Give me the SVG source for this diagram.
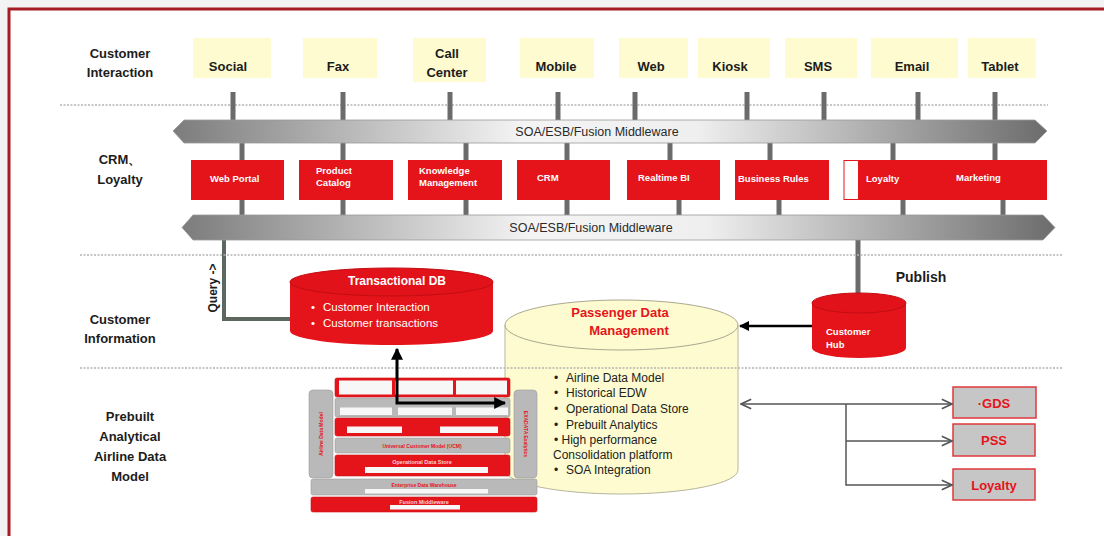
<svg xmlns="http://www.w3.org/2000/svg" width="1104" height="536" viewBox="0 0 1104 536">
<defs>
<style>
.lbl{font-family:"Liberation Sans",Arial,sans-serif;font-weight:bold;font-size:13px;fill:#1c1c1c;text-anchor:middle}
.ch{fill:#fdfbcf}
.stub{stroke:#6b6b6b;stroke-width:5}
.sep{stroke:#b4b4b4;stroke-width:1.5;stroke-dasharray:2 1.5}
.bar{fill:url(#gbar);stroke:#9a9a9a;stroke-width:0.8}
.bartxt{font-family:"Liberation Sans",Arial,sans-serif;font-size:12.5px;fill:#2a2a2a;text-anchor:middle}
.rb{fill:#e5141b}
.rbt{font-family:"Liberation Sans",Arial,sans-serif;font-weight:bold;font-size:9.5px;fill:#fff}
.wt{font-family:"Liberation Sans",Arial,sans-serif;font-size:11.5px;fill:#fff}
.pt{font-family:"Liberation Sans",Arial,sans-serif;font-size:12px;fill:#222}
.gb{fill:#c6c6c6;stroke:#e0383d;stroke-width:1.5}
.gbt{font-family:"Liberation Sans",Arial,sans-serif;font-weight:bold;font-size:13px;fill:#e5141b;text-anchor:middle}
.conn{stroke:#555;stroke-width:1.5;fill:none}
.sr{fill:#e5141b;stroke:#c81016;stroke-width:0.6}
.sg{fill:#b9b9b9;stroke:#9a9a9a;stroke-width:0.6}
.sw{fill:#f7f7f7}
.st{font-family:"Liberation Sans",Arial,sans-serif;font-size:5px;font-weight:bold;fill:#e5141b;text-anchor:middle}
.stw{font-family:"Liberation Sans",Arial,sans-serif;font-size:5.5px;font-weight:bold;fill:#fbd0d0;text-anchor:middle}
</style>
<linearGradient id="gbar" x1="0" y1="0" x2="1" y2="0">
<stop offset="0" stop-color="#7c7c7c"/>
<stop offset="0.4" stop-color="#f4f4f4"/>
<stop offset="0.6" stop-color="#efefef"/>
<stop offset="1" stop-color="#6c6c6c"/>
</linearGradient>
<marker id="ab" viewBox="0 0 10 10" refX="9" refY="5" markerWidth="4" markerHeight="4" orient="auto-start-reverse" markerUnits="strokeWidth">
<path d="M0,0 L10,5 L0,10 z" fill="#000"/>
</marker>
<marker id="ao" viewBox="0 0 10 10" refX="9.5" refY="5" markerWidth="8" markerHeight="8" orient="auto-start-reverse" markerUnits="strokeWidth">
<path d="M1,1 L9.5,5 L1,9" fill="none" stroke="#555" stroke-width="1.3"/>
</marker>
</defs>
<rect x="0" y="0" width="1104" height="536" fill="#f3f3f3"/>
<rect x="9" y="9" width="1100" height="540" fill="#fff" stroke="#a51d23" stroke-width="3"/>

<!-- row labels -->
<g id="lbl-ci"><text class="lbl" x="120" y="58">Customer</text><text class="lbl" x="120" y="77">Interaction</text></g>
<g id="lbl-crm"><text class="lbl" x="120" y="164">CRM、</text><text class="lbl" x="120" y="184">Loyalty</text></g>
<g id="lbl-cinfo"><text class="lbl" x="120" y="324">Customer</text><text class="lbl" x="120" y="343">Information</text></g>
<g id="lbl-pre"><text class="lbl" x="130" y="421">Prebuilt</text><text class="lbl" x="130" y="441">Analytical</text><text class="lbl" x="130" y="461">Airline Data</text><text class="lbl" x="130" y="481">Model</text></g>

<!-- separators -->
<g id="separators-top">
<line class="sep" x1="60" y1="105" x2="1048" y2="105"/>
</g>

<!-- connectors -->
<g id="connectors">
<line class="stub" x1="233" y1="92" x2="233" y2="121"/>
<line class="stub" x1="343" y1="92" x2="343" y2="121"/>
<line class="stub" x1="450" y1="92" x2="450" y2="121"/>
<line class="stub" x1="558" y1="92" x2="558" y2="121"/>
<line class="stub" x1="635" y1="92" x2="635" y2="121"/>
<line class="stub" x1="747" y1="92" x2="747" y2="121"/>
<line class="stub" x1="824" y1="92" x2="824" y2="121"/>
<line class="stub" x1="918" y1="92" x2="918" y2="121"/>
<line class="stub" x1="995" y1="92" x2="995" y2="121"/>

<line class="stub" x1="242" y1="142" x2="242" y2="161"/>
<line class="stub" x1="343" y1="142" x2="343" y2="161"/>
<line class="stub" x1="466" y1="142" x2="466" y2="161"/>
<line class="stub" x1="567" y1="142" x2="567" y2="161"/>
<line class="stub" x1="670" y1="142" x2="670" y2="161"/>
<line class="stub" x1="770" y1="142" x2="770" y2="161"/>
<line class="stub" x1="893" y1="142" x2="893" y2="161"/>
<line class="stub" x1="995" y1="142" x2="995" y2="161"/>

<line class="stub" x1="242" y1="199" x2="242" y2="216"/>
<line class="stub" x1="343" y1="199" x2="343" y2="216"/>
<line class="stub" x1="466" y1="199" x2="466" y2="216"/>
<line class="stub" x1="567" y1="199" x2="567" y2="216"/>
<line class="stub" x1="679" y1="199" x2="679" y2="216"/>
<line class="stub" x1="779" y1="199" x2="779" y2="216"/>
<line class="stub" x1="903" y1="199" x2="903" y2="216"/>
<line class="stub" x1="1003" y1="199" x2="1003" y2="216"/>

<path d="M224,239 L224,319 L292,319" fill="none" stroke="#5d675d" stroke-width="4"/>
<line x1="858" y1="239" x2="858" y2="296" stroke="#6b6b6b" stroke-width="5"/>
</g>

<!-- channels -->
<g id="ch-social"><rect class="ch" x="193" y="38" width="78" height="40"/><text class="lbl" x="228" y="71">Social</text></g>
<g id="ch-fax"><rect class="ch" x="303" y="38" width="74" height="40"/><text class="lbl" x="338" y="71">Fax</text></g>
<g id="ch-call"><rect class="ch" x="413" y="38" width="73" height="44"/><text class="lbl" x="447" y="58">Call</text><text class="lbl" x="447" y="77">Center</text></g>
<g id="ch-mobile"><rect class="ch" x="520" y="38" width="74" height="40"/><text class="lbl" x="556" y="71">Mobile</text></g>
<g id="ch-web"><rect class="ch" x="619" y="38" width="69" height="40"/><text class="lbl" x="651" y="71">Web</text></g>
<g id="ch-kiosk"><rect class="ch" x="698" y="38" width="72" height="40"/><text class="lbl" x="730" y="71">Kiosk</text></g>
<g id="ch-sms"><rect class="ch" x="785" y="38" width="72" height="40"/><text class="lbl" x="818" y="71">SMS</text></g>
<g id="ch-email"><rect class="ch" x="871" y="38" width="87" height="40"/><text class="lbl" x="912" y="71">Email</text></g>
<g id="ch-tablet"><rect class="ch" x="968" y="38" width="68" height="40"/><text class="lbl" x="1000" y="71">Tablet</text></g>

<!-- middleware bars -->
<g id="mw-top"><polygon class="bar" points="173,131 184,120 1035,120 1047,131 1035,143 184,143"/><text class="bartxt" x="597" y="135.5">SOA/ESB/Fusion Middleware</text></g>
<g id="mw-bottom"><polygon class="bar" points="182,227.5 193,215 1043,215 1055,227.5 1043,240 193,240"/><text class="bartxt" x="591" y="232">SOA/ESB/Fusion Middleware</text></g>

<!-- red app boxes -->
<g id="app-webportal"><rect class="rb" x="191" y="160" width="93" height="40"/><text class="rbt" x="210" y="182">Web Portal</text></g>
<g id="app-catalog"><rect class="rb" x="299" y="160" width="94" height="40"/><text class="rbt" x="316" y="174">Product</text><text class="rbt" x="316" y="186">Catalog</text></g>
<g id="app-km"><rect class="rb" x="408" y="160" width="94" height="40"/><text class="rbt" x="419" y="174">Knowledge</text><text class="rbt" x="419" y="186">Management</text></g>
<g id="app-crm"><rect class="rb" x="517" y="160" width="93" height="40"/><text class="rbt" x="537" y="181">CRM</text></g>
<g id="app-bi"><rect class="rb" x="627" y="160" width="93" height="40"/><text class="rbt" x="638" y="181">Realtime BI</text></g>
<g id="app-rules"><rect class="rb" x="735" y="160" width="94" height="40"/><text class="rbt" x="738" y="182">Business Rules</text></g>
<g id="app-loyalty"><rect x="844" y="160.5" width="108" height="39" fill="#fff" stroke="#e5141b" stroke-width="1"/><rect class="rb" x="858" y="160" width="94" height="40"/><text class="rbt" x="866" y="182">Loyalty</text></g>
<g id="app-marketing"><rect class="rb" x="952" y="160" width="95" height="40"/><text class="rbt" x="956" y="181">Marketing</text></g>

<!-- query label -->
<g id="lbl-query"><text class="lbl" style="font-size:12px" transform="translate(217,288) rotate(-90)">Query -&gt;</text></g>

<!-- Transactional DB -->
<g id="db-trans">
<path d="M290,282 L290,331 A101.5,14 0 0 0 493,331 L493,282 Z" fill="#e5141b"/>
<ellipse cx="391.5" cy="282" rx="101.5" ry="14" fill="#e11219" stroke="#c20d13" stroke-width="1"/>
<text class="wt" x="397" y="285" text-anchor="middle" font-weight="bold" style="font-size:12px">Transactional DB</text>
<text class="wt" x="311" y="311">•<tspan x="323">Customer Interaction</tspan></text>
<text class="wt" x="311" y="327">•<tspan x="323">Customer transactions</tspan></text>
</g>

<!-- Passenger Data Management -->
<g id="db-passenger">
<path d="M505,325 L505,470 A116.5,24 0 0 0 738,470 L738,325 Z" fill="#fdfbcf" stroke="#b7b59c" stroke-width="1"/>
<ellipse cx="621.5" cy="325" rx="116.5" ry="25" fill="#fdfbcf" stroke="#a9a890" stroke-width="1"/>
<text x="620" y="317" text-anchor="middle" font-family="Liberation Sans, Arial, sans-serif" font-weight="bold" font-size="13" fill="#e5141b">Passenger Data</text>
<text x="629" y="335" text-anchor="middle" font-family="Liberation Sans, Arial, sans-serif" font-weight="bold" font-size="13" fill="#e5141b">Management</text>
<text class="pt" x="554" y="382">•<tspan x="566">Airline Data Model</tspan></text>
<text class="pt" x="554" y="397">•<tspan x="566">Historical EDW</tspan></text>
<text class="pt" x="554" y="413">•<tspan x="566">Operational Data Store</tspan></text>
<text class="pt" x="554" y="429">•<tspan x="566">Prebuilt Analytics</tspan></text>
<text class="pt" x="554" y="444">• High performance</text>
<text class="pt" x="553" y="459">Consolidation platform</text>
<text class="pt" x="554" y="474">•<tspan x="566">SOA Integration</tspan></text>
</g>

<!-- Customer Hub -->
<g id="db-hub">
<path d="M812,303 L812,348 A47,10 0 0 0 906,348 L906,303 Z" fill="#e5141b"/>
<ellipse cx="859" cy="303" rx="47" ry="10" fill="#e11219" stroke="#c20d13" stroke-width="1"/>
<text class="rbt" x="826" y="335">Customer</text>
<text class="rbt" x="826" y="348">Hub</text>
</g>
<g id="lbl-publish"><text class="lbl" style="font-size:14px" x="921" y="282">Publish</text></g>

<!-- separators over cylinder -->
<g id="separators">
<line class="sep" x1="80" y1="255" x2="1062" y2="255"/>
<line class="sep" x1="80" y1="368" x2="1062" y2="368"/>
</g>

<!-- external systems -->
<g id="ext-gds"><rect class="gb" x="953" y="387" width="83" height="31"/><text class="gbt" x="994" y="407.5">·GDS</text></g>
<g id="ext-pss"><rect class="gb" x="953" y="424" width="82" height="32"/><text class="gbt" x="994" y="445">PSS</text></g>
<g id="ext-loyalty"><rect class="gb" x="953" y="469" width="82" height="31"/><text class="gbt" x="994" y="490">Loyalty</text></g>

<!-- prebuilt stack -->
<g id="stack">
<rect class="sg" x="309" y="390" width="24" height="88" rx="4"/>
<text class="st" transform="translate(322.5,434) rotate(-90)">Airline Data Model</text>
<rect class="sg" x="514" y="390" width="23" height="88" rx="4"/>
<text class="st" transform="translate(524,434) rotate(90)">EXADATA Exalytics</text>
<rect class="sr" x="335" y="378" width="175" height="19" rx="2"/>
<rect class="sw" x="339" y="380.5" width="53" height="14"/>
<rect class="sw" x="395" y="380.5" width="58" height="14"/>
<rect class="sw" x="456" y="380.5" width="51" height="14"/>
<rect class="sg" x="335" y="398" width="175" height="19" rx="2"/>
<rect class="sw" x="340" y="407.5" width="52" height="7.5"/>
<rect class="sw" x="398" y="407.5" width="54" height="7.5"/>
<rect class="sw" x="456" y="407.5" width="52" height="7.5"/>
<rect class="sr" x="335" y="418" width="175" height="18" rx="2"/>
<rect class="sw" x="347" y="426.5" width="55" height="6.5"/>
<rect class="sw" x="440" y="426.5" width="58" height="6.5"/>
<rect class="sg" x="335" y="438" width="175" height="15" rx="2"/>
<text class="st" x="422" y="447.5">Universal Customer Model (UCM)</text>
<rect class="sr" x="335" y="455" width="175" height="21" rx="2"/>
<text class="stw" x="422" y="464">Operational Data Store</text>
<rect class="sw" x="365" y="467" width="123" height="6"/>
<rect class="sg" x="311" y="479" width="226" height="16" rx="2"/>
<text class="st" x="424" y="487">Enterprise Data Warehouse</text>
<rect class="sw" x="365" y="489" width="123" height="4.5"/>
<rect class="sr" x="311" y="497" width="226" height="15" rx="2"/>
<text class="stw" x="424" y="503.5">Fusion Middleware</text>
<rect class="sw" x="390" y="505" width="70" height="4.5"/>
</g>

<!-- arrows -->
<g id="arrows">
<path d="M397,349 L397,403 L505,403" fill="none" stroke="#000" stroke-width="3" marker-start="url(#ab)" marker-end="url(#ab)"/>
<line x1="812" y1="326" x2="740" y2="326" stroke="#000" stroke-width="2.5" marker-end="url(#ab)"/>
<line class="conn" x1="741" y1="404" x2="952" y2="404" marker-start="url(#ao)" marker-end="url(#ao)"/>
<path class="conn" d="M846,404 L846,485 L952,485" marker-end="url(#ao)"/>
<line class="conn" x1="846" y1="441" x2="952" y2="441" marker-end="url(#ao)"/>
</g>
</svg>
